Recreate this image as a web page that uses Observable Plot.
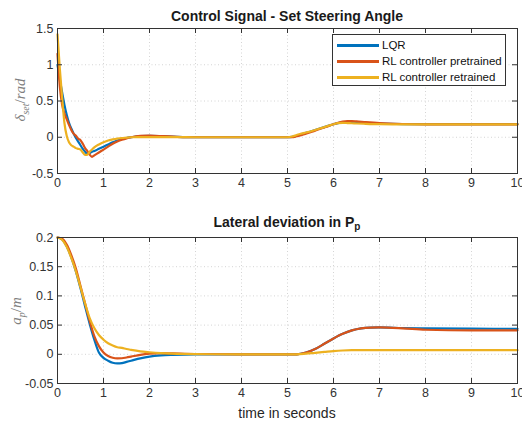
<!DOCTYPE html>
<html><head><meta charset="utf-8">
<script src="https://cdn.jsdelivr.net/npm/d3@7"></script>
<script src="https://cdn.jsdelivr.net/npm/@observablehq/plot@0.6"></script>
<style>
body{margin:0;background:#fff;font-family:"Liberation Sans",Arial,sans-serif;}
#root{position:relative;width:522px;height:421px;overflow:hidden;background:#fff}
.panel{position:absolute;left:0}
.title{position:absolute;font-weight:bold;font-size:14px;color:#1a1a1a;white-space:nowrap;transform:translate(-50%,-50%)}
.xlab{position:absolute;font-size:14px;color:#262626;white-space:nowrap;transform:translate(-50%,-50%)}
.ylab{position:absolute;font-family:"Liberation Serif","DejaVu Serif",serif;color:#808080;font-size:15px;white-space:nowrap;transform:translate(-50%,-50%) rotate(-90deg)}
.ylab i sub{font-size:10px}
#legend{position:absolute;left:332px;top:34px;width:172px;height:50px;border:1px solid #333;background:#fff;font-size:11.5px;color:#111}
.row{position:absolute;left:0;height:14px;width:172px}
.row .ln{position:absolute;left:4px;width:42px;height:2.5px;top:6px}
.row .tx{position:absolute;left:49px;top:0;line-height:14px;white-space:nowrap}
</style></head>
<body><div id="root"></div>
<script>
const seriesNames = ["LQR", "RL controller pretrained", "RL controller retrained"];
const colors = ["#0072BD", "#D95319", "#EDB120"];
const xTicks = [0,1,2,3,4,5,6,7,8,9,10];
const yTicksTop = [-0.5,0,0.5,1,1.5];
const yTicksBot = [-0.05,0,0.05,0.1,0.15,0.2];

const tTop = [0,0.05,0.1,0.15,0.2,0.25,0.3,0.35,0.4,0.45,0.5,0.55,0.6,0.65,0.7,0.75,0.8,0.9,1.0,1.1,1.2,1.3,1.4,1.5,1.6,1.8,2.0,2.3,2.6,3,4,5,5.1,5.2,5.3,5.4,5.5,5.6,5.7,5.8,5.9,6.0,6.1,6.2,6.3,6.4,6.5,6.7,7,7.5,8,9,10];
const lqrTop = [1.0,0.8,0.62,0.45,0.31,0.2,0.12,0.05,-0.01,-0.06,-0.11,-0.16,-0.2,-0.23,-0.22,-0.2,-0.19,-0.16,-0.13,-0.1,-0.07,-0.045,-0.025,-0.01,0.0,0.015,0.02,0.012,0.005,0,0,0,0.005,0.02,0.04,0.06,0.08,0.1,0.12,0.14,0.16,0.18,0.195,0.205,0.21,0.21,0.205,0.2,0.19,0.182,0.18,0.18,0.18];
const preTop = [1.15,0.7,0.45,0.33,0.25,0.17,0.1,0.05,0.02,-0.02,-0.04,-0.09,-0.15,-0.19,-0.24,-0.27,-0.25,-0.21,-0.17,-0.13,-0.09,-0.06,-0.035,-0.015,0.0,0.018,0.022,0.015,0.006,0,0,0,0.0,0.015,0.03,0.05,0.07,0.09,0.115,0.135,0.155,0.18,0.2,0.215,0.222,0.222,0.218,0.208,0.195,0.183,0.178,0.177,0.177];
const retTop = [1.42,0.95,0.55,0.2,0.02,-0.07,-0.11,-0.13,-0.15,-0.16,-0.17,-0.21,-0.245,-0.24,-0.2,-0.17,-0.14,-0.1,-0.07,-0.045,-0.03,-0.018,-0.01,-0.005,0.0,0.002,0.003,0.002,0.001,0,0,0,0.01,0.03,0.05,0.065,0.08,0.1,0.12,0.14,0.16,0.18,0.195,0.198,0.196,0.193,0.19,0.185,0.18,0.178,0.177,0.177,0.177];

const tBot = [0,0.1,0.2,0.3,0.4,0.5,0.6,0.7,0.8,0.9,1.0,1.1,1.2,1.3,1.4,1.5,1.6,1.8,2.0,2.25,2.5,3,4,5,5.2,5.4,5.6,5.8,6.0,6.2,6.4,6.6,6.8,7,7.5,8,9,10];
const lqrBot = [0.2,0.197,0.185,0.166,0.142,0.113,0.082,0.052,0.025,0.003,-0.006,-0.011,-0.0145,-0.0155,-0.015,-0.013,-0.011,-0.007,-0.004,-0.002,-0.001,0,0,0,0.0,0.003,0.009,0.018,0.027,0.035,0.041,0.0445,0.0458,0.046,0.045,0.0443,0.0438,0.0437];
const preBot = [0.2,0.198,0.188,0.17,0.147,0.117,0.087,0.057,0.031,0.014,0.003,-0.003,-0.006,-0.007,-0.0068,-0.0055,-0.004,-0.001,0.001,0.002,0.0015,0.0005,0,0,0.0,0.003,0.009,0.018,0.027,0.035,0.041,0.0445,0.0458,0.046,0.0445,0.042,0.041,0.041];
const retBot = [0.2,0.196,0.184,0.165,0.142,0.115,0.087,0.062,0.045,0.033,0.025,0.019,0.015,0.012,0.011,0.009,0.0075,0.005,0.0035,0.002,0.001,0.0003,0,0,0.0,0.001,0.0025,0.004,0.0055,0.0065,0.007,0.007,0.007,0.007,0.007,0.007,0.007,0.007];

function rows(t, arrs) {
  const out = [];
  arrs.forEach((a, i) => a.forEach((v, j) => out.push({t: t[j], v, s: seriesNames[i]})));
  return out;
}
const topData = rows(tTop, [lqrTop, preTop, retTop]);
const botData = rows(tBot, [lqrBot, preBot, retBot]);

function panel(data, yDomain, yTicks, height, mt, mb) {
  const ml = 57, mr = 5, W = 522;
  const ih = height - mt - mb, iw = W - ml - mr, tk = 5;
  const fmt = d => String(d);
  return Plot.plot({
    width: W, height, marginLeft: ml, marginRight: mr, marginTop: mt, marginBottom: mb,
    style: {fontFamily: "'Liberation Sans', Arial, sans-serif", fontSize: "12.5px", color: "#333", background: "transparent"},
    x: {domain: [0, 10]},
    y: {domain: yDomain},
    color: {domain: seriesNames, range: colors},
    marks: [
      Plot.gridX(xTicks, {stroke: "#d4d4d4", strokeOpacity: 1, strokeDasharray: "1,2.5"}),
      Plot.gridY(yTicks, {stroke: "#d4d4d4", strokeOpacity: 1, strokeDasharray: "1,2.5"}),
      Plot.line(data, {x: "t", y: "v", z: "s", stroke: "s", strokeWidth: 2.2, curve: "monotone-x"}),
      Plot.frame({stroke: "#333", strokeWidth: 1}),
      Plot.tickX(xTicks, {x: d => d, insetTop: ih - tk, stroke: "#333"}),
      Plot.tickX(xTicks, {x: d => d, insetBottom: ih - tk, stroke: "#333"}),
      Plot.tickY(yTicks, {y: d => d, insetRight: iw - tk, stroke: "#333"}),
      Plot.tickY(yTicks, {y: d => d, insetLeft: iw - tk, stroke: "#333"}),
      Plot.axisX(xTicks, {tickSize: 0, tickPadding: 5, label: null, tickFormat: fmt}),
      Plot.axisY(yTicks, {tickSize: 0, tickPadding: 4, label: null, tickFormat: fmt})
    ]
  });
}

const root = document.getElementById("root");
const p1 = document.createElement("div"); p1.className = "panel"; p1.style.top = "0px";
p1.appendChild(panel(topData, [-0.5, 1.5], yTicksTop, 200, 28, 27));
root.appendChild(p1);
const p2 = document.createElement("div"); p2.className = "panel"; p2.style.top = "200px";
p2.appendChild(panel(botData, [-0.05, 0.2], yTicksBot, 221, 37, 38));
root.appendChild(p2);

function add(html, cls, x, y) {
  const d = document.createElement("div"); d.className = cls; d.innerHTML = html;
  d.style.left = x + "px"; d.style.top = y + "px"; root.appendChild(d); return d;
}
add("Control Signal - Set Steering Angle", "title", 287, 16);
add("Lateral deviation in P<sub style='font-size:10px'>p</sub>", "title", 287, 223);
add("time in seconds", "xlab", 287, 413);
add("<i>δ<sub>set</sub></i>/<i>rad</i>", "ylab", 21, 100);
add("<i>a<sub>p</sub></i>/<i>m</i>", "ylab", 17, 311);

const leg = document.createElement("div"); leg.id = "legend";
seriesNames.forEach((n, i) => {
  const r = document.createElement("div"); r.className = "row"; r.style.top = (3 + i * 16) + "px";
  r.innerHTML = `<span class="ln" style="background:${colors[i]}"></span><span class="tx">${n}</span>`;
  leg.appendChild(r);
});
root.appendChild(leg);
</script></body></html>
